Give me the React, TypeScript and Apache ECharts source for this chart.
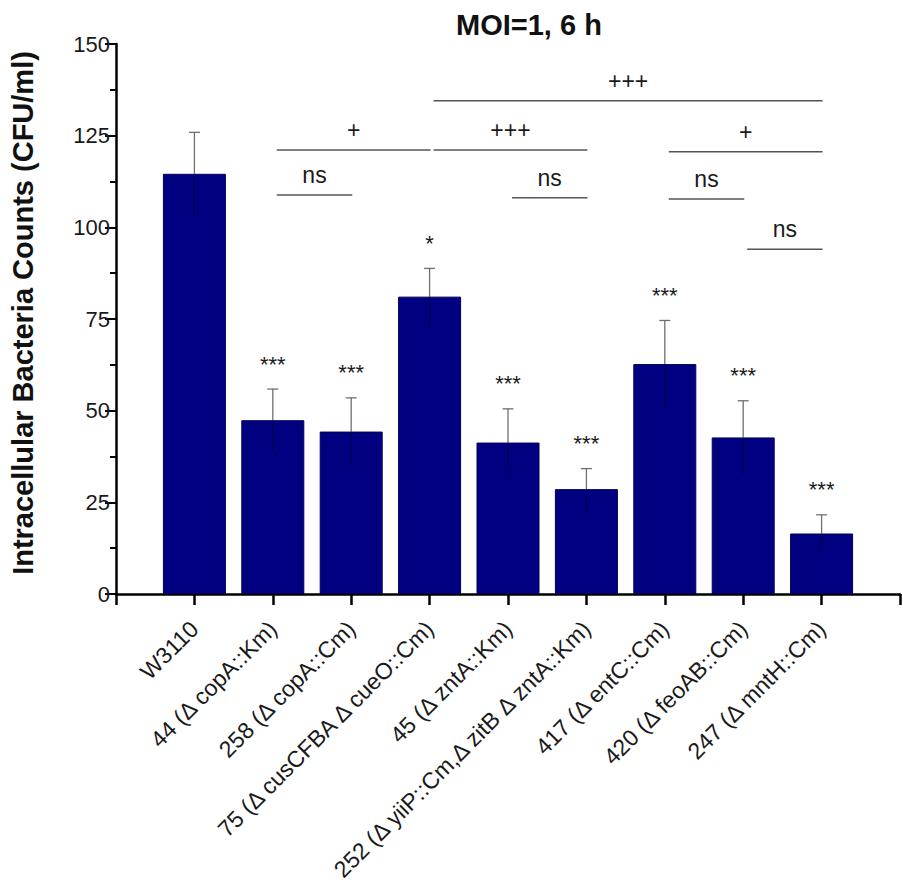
import React, { useEffect, useRef } from "react";
import * as echarts from "echarts";

const strains = [
  "W3110",
  "44 (Δ copA::Km)",
  "258 (Δ copA::Cm)",
  "75 (Δ cusCFBA Δ cueO::Cm)",
  "45 (Δ zntA::Km)",
  "252 (Δ yiiP::Cm,Δ zitB Δ zntA::Km)",
  "417 (Δ entC::Cm)",
  "420 (Δ feoAB::Cm)",
  "247 (Δ mntH::Cm)",
];
const means = [114.6, 47.4, 44.3, 81.1, 41.3, 28.6, 62.7, 42.7, 16.5];
const errors = [11.3, 8.5, 9.2, 7.7, 9.2, 5.6, 11.9, 10.0, 5.1];
const stars = ["", "***", "***", "*", "***", "***", "***", "***", "***"];

const bracketFrom = [2, 2, 4, 4, 5, 7, 7, 8];
const bracketTo = [4, 3, 9, 6, 6, 9, 8, 9];
const bracketLevel = [121.1, 108.8, 134.5, 121.1, 108.1, 120.6, 107.7, 94.0];
const bracketText = ["+", "ns", "+++", "+++", "ns", "+", "ns", "ns"];

const yMin = 0;
const yMax = 150;
const yStep = 25;

const FONT = "'Liberation Sans', Arial, Helvetica, sans-serif";
const TEXT = "#1a1a1a";

export default function App() {
  const ref = useRef<HTMLDivElement>(null);

  useEffect(() => {
    if (!ref.current) return;
    const chart = echarts.init(ref.current, undefined, { renderer: "svg" });

    const barData = means.map((m, i) => [i + 1, m]);
    const errData = means.map((m, i) => [i + 1, m, errors[i]]);
    const starData = means.map((m, i) => [i + 1, m + errors[i]]);
    const bracketData = bracketFrom.map((f, i) => [f, bracketTo[i], bracketLevel[i]]);

    const option: any = {
      animation: false,
      backgroundColor: "#ffffff",
      title: {
        text: "MOI=1, 6 h",
        left: 451,
        top: 5,
        textStyle: { fontSize: 29, fontWeight: "bold", color: "#111", fontFamily: FONT },
      },
      grid: { left: 112, top: 44, width: 788, height: 550, containLabel: false },
      xAxis: {
        type: "value",
        min: 0,
        max: strains.length + 1,
        interval: 1,
        splitLine: { show: false },
        axisLine: { show: true, onZero: false, lineStyle: { color: "#000", width: 2.5 } },
        axisTick: { show: true, inside: false, length: 11, lineStyle: { color: "#000", width: 2.5 } },
        axisLabel: {
          show: true,
          rotate: 45,
          margin: 31,
          fontSize: 23,
          color: TEXT,
          fontFamily: FONT,
          formatter: (v: number) => strains[Math.round(v) - 1] || "",
        },
      },
      yAxis: {
        type: "value",
        min: yMin,
        max: yMax,
        interval: yStep,
        name: "Intracellular Bacteria Counts (CFU/ml)",
        nameLocation: "middle",
        nameGap: 79,
        nameTextStyle: {
          fontSize: 29,
          fontWeight: "bold",
          color: "#111",
          fontFamily: FONT,
          padding: [0, 0, 0, 12],
        },
        splitLine: { show: false },
        axisLine: { show: true, lineStyle: { color: "#000", width: 2.5 } },
        axisTick: { show: true, inside: false, length: 11, lineStyle: { color: "#000", width: 2 } },
        minorTick: { show: true, splitNumber: 2, length: 6, lineStyle: { color: "#000", width: 2 } },
        axisLabel: { fontSize: 22, color: TEXT, fontFamily: FONT, margin: 6 },
      },
      series: [
        {
          type: "bar",
          data: barData,
          barWidth: 63,
          itemStyle: { color: "#000080", borderColor: "#00005a", borderWidth: 1 },
          z: 2,
        },
        {
          type: "custom",
          data: errData,
          encode: { x: 0, y: [1, 2] },
          z: 3,
          renderItem: (params: any, api: any) => {
            const x = api.value(0);
            const m = api.value(1);
            const e = api.value(2);
            const top = api.coord([x, m + e]);
            const mid = api.coord([x, m]);
            const bot = api.coord([x, m - e]);
            return {
              type: "group",
              children: [
                {
                  type: "line",
                  shape: { x1: top[0], y1: top[1], x2: mid[0], y2: mid[1] },
                  style: { stroke: "#6f6f6f", lineWidth: 1.3 },
                },
                {
                  type: "line",
                  shape: { x1: mid[0], y1: mid[1], x2: bot[0], y2: bot[1] },
                  style: { stroke: "rgba(0,0,50,0.6)", lineWidth: 1.3 },
                },
                {
                  type: "line",
                  shape: { x1: top[0] - 5.5, y1: top[1], x2: top[0] + 5.5, y2: top[1] },
                  style: { stroke: "#6f6f6f", lineWidth: 1.3 },
                },
              ],
            };
          },
        },
        {
          type: "custom",
          data: starData,
          encode: { x: 0, y: 1 },
          z: 4,
          renderItem: (params: any, api: any) => {
            const p = api.coord([api.value(0), api.value(1)]);
            const t = stars[params.dataIndex];
            if (!t) return { type: "group", children: [] };
            return {
              type: "text",
              x: p[0],
              y: p[1] - 25,
              style: {
                text: t,
                fontSize: 22,
                fontFamily: FONT,
                fill: TEXT,
                align: "center",
                verticalAlign: "middle",
              },
            };
          },
        },
        {
          type: "custom",
          data: bracketData,
          encode: { x: [0, 1], y: 2 },
          z: 4,
          renderItem: (params: any, api: any) => {
            const a = api.coord([api.value(0), api.value(2)]);
            const b = api.coord([api.value(1), api.value(2)]);
            const x1 = a[0] + 4;
            const x2 = b[0] + 1;
            return {
              type: "group",
              children: [
                {
                  type: "line",
                  shape: { x1, y1: a[1], x2, y2: b[1] },
                  style: { stroke: "#555", lineWidth: 1.5 },
                },
                {
                  type: "text",
                  x: (x1 + x2) / 2,
                  y: a[1] - 20,
                  style: {
                    text: bracketText[params.dataIndex],
                    fontSize: 23,
                    fontFamily: FONT,
                    fill: TEXT,
                    align: "center",
                    verticalAlign: "middle",
                  },
                },
              ],
            };
          },
        },
      ],
    };

    chart.setOption(option);
    return () => chart.dispose();
  }, []);

  return (
    <div
      ref={ref}
      style={{ position: "absolute", left: 0, top: 0, width: 903, height: 894 }}
    />
  );
}
